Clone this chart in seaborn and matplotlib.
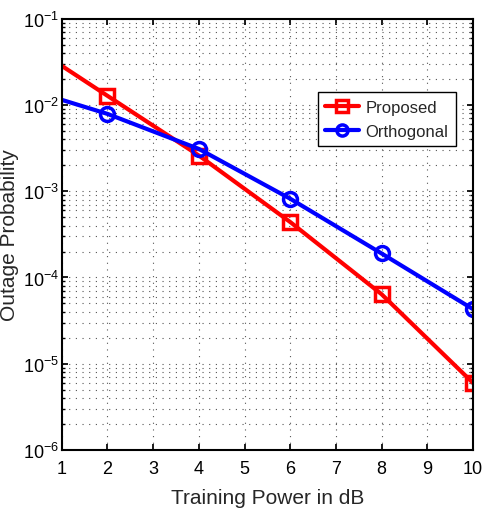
import matplotlib
matplotlib.use('Agg')
import seaborn as sns
import matplotlib.pyplot as plt
import pandas as pd
from matplotlib.ticker import LogLocator, FixedLocator

# Data
power_db = [1, 2, 4, 6, 8, 10]
proposed = [0.0285, 0.0128, 0.0026, 4.4e-4, 6.4e-5, 6.0e-6]
orthogonal = [0.0115, 0.0079, 0.0031, 8.2e-4, 1.9e-4, 4.3e-5]

df = pd.concat([
    pd.DataFrame({'power': power_db, 'outage': proposed, 'scheme': 'Proposed'}),
    pd.DataFrame({'power': power_db, 'outage': orthogonal, 'scheme': 'Orthogonal'}),
])

sns.set_theme(style='ticks')
plt.rcParams['font.family'] = ['Liberation Sans', 'DejaVu Sans']
plt.rcParams['mathtext.fontset'] = 'custom'
plt.rcParams['mathtext.rm'] = 'Liberation Sans'
plt.rcParams['mathtext.it'] = 'Liberation Sans:italic'

fig = plt.figure(figsize=(4.83, 5.10), dpi=100)
ax = fig.add_axes([0.128, 0.116, 0.851, 0.845])

sns.lineplot(data=df, x='power', y='outage', hue='scheme', style='scheme',
             palette={'Proposed': '#ff0000', 'Orthogonal': '#0000ff'},
             markers={'Proposed': 's', 'Orthogonal': 'o'}, dashes=False,
             markevery=slice(1, None), markersize=10, linewidth=3,
             legend=False, ax=ax)

for ln in ax.get_lines():
    ln.set_markeredgecolor(ln.get_color())
    ln.set_markerfacecolor('none')
    ln.set_markeredgewidth(2.5)

ax.set_yscale('log')
ax.set_xlim(1, 10)
ax.set_ylim(1e-6, 1e-1)
ax.xaxis.set_major_locator(FixedLocator(range(1, 11)))
ax.yaxis.set_major_locator(LogLocator(base=10, numticks=10))
ax.yaxis.set_minor_locator(LogLocator(base=10, subs=range(2, 10), numticks=20))
ax.yaxis.set_minor_formatter(plt.NullFormatter())

ax.grid(True, which='major', axis='both', linestyle=(0, (1, 5)), color='#555555', linewidth=0.8)
ax.grid(True, which='minor', axis='y', linestyle=(0, (1, 5)), color='#555555', linewidth=0.8)
ax.tick_params(which='both', direction='in', top=True, right=True, labelsize=13, colors='black')
ax.tick_params(which='major', length=4)
ax.tick_params(axis='x', which='major', pad=7)
ax.tick_params(axis='y', which='major', pad=2)
ax.tick_params(which='minor', length=2)
for s in ax.spines.values():
    s.set_color('black')
    s.set_linewidth(1.5)

ax.set_xlabel('Training Power in dB', fontsize=15, labelpad=8)
ax.set_ylabel('Outage Probability', fontsize=15, labelpad=3)

handles = ax.get_lines()[:2]
leg = ax.legend(handles, ['Proposed', 'Orthogonal'], loc='upper left',
                bbox_to_anchor=(0.623, 0.83), borderaxespad=0, fontsize=12,
                numpoints=1, frameon=True, fancybox=False, edgecolor='black',
                framealpha=1, handlelength=2.0, borderpad=0.45,
                labelspacing=0.55, handletextpad=0.4)
leg.get_frame().set_linewidth(1.0)
for h in leg.legend_handles:
    h.set_markevery([1])
    h.set_markersize(8)

fig.savefig('out.png', dpi=100)
